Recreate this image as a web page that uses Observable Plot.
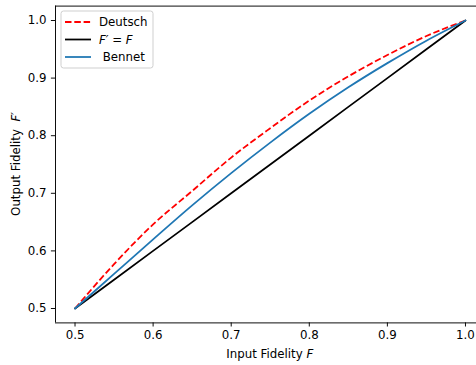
<!DOCTYPE html>
<html>
<head>
<meta charset="utf-8">
<script src="https://cdn.jsdelivr.net/npm/d3@7"></script>
<script src="https://cdn.jsdelivr.net/npm/@observablehq/plot@0.6"></script>
<style>
  html, body { margin: 0; padding: 0; background: #fff; overflow: hidden; }
  #chart { width: 476px; height: 365px; }
</style>
</head>
<body>
<div id="chart"></div>
<script>
// Input fidelity values (x)
const inputF = [0.5, 0.55, 0.6, 0.65, 0.7, 0.75, 0.8, 0.85, 0.9, 0.95, 1.0];
// Output fidelity
const deutsch = [0.5, 0.577, 0.646, 0.704, 0.762, 0.813, 0.861, 0.903, 0.940, 0.973, 1.0];
const bennet  = [0.5, 0.560, 0.620, 0.679, 0.735, 0.788, 0.838, 0.884, 0.926, 0.965, 1.0];
const identity = [0.5, 0.55, 0.6, 0.65, 0.7, 0.75, 0.8, 0.85, 0.9, 0.95, 1.0];
const ticks = [0.5, 0.6, 0.7, 0.8, 0.9, 1.0];
const seriesNames = ["Deutsch", "F′ = F", " Bennet"];
const seriesColors = ["#ff0000", "#000000", "#1f77b4"];

const rows = (ys) => inputF.map((f, i) => ({f, v: ys[i]}));
const font = "DejaVu Sans, sans-serif";
const fs = 11.8;

const plot = Plot.plot({
  width: 476,
  height: 365,
  marginLeft: 55,
  marginRight: 0,
  marginTop: 5.6,
  marginBottom: 42.6,
  style: {fontFamily: font, fontSize: fs + "px", color: "#000", background: "#fff", overflow: "visible"},
  x: {domain: [0.475, 1.025], range: [55, 484.5]},
  y: {domain: [0.475, 1.025]},
  marks: [
    Plot.line(rows(deutsch), {x: "f", y: "v", stroke: seriesColors[0], strokeWidth: 1.77, strokeDasharray: "6.5,2.8", curve: "monotone-x", strokeLinecap: "butt"}),
    Plot.line(rows(identity), {x: "f", y: "v", stroke: seriesColors[1], strokeWidth: 1.77, curve: "linear"}),
    Plot.line(rows(bennet), {x: "f", y: "v", stroke: seriesColors[2], strokeWidth: 1.77, curve: "monotone-x"}),
    Plot.ruleX([0.475], {stroke: "#000", strokeWidth: 0.95}),
    Plot.ruleY([0.475], {stroke: "#000", strokeWidth: 0.95}),
    Plot.ruleY([1.025], {stroke: "#000", strokeWidth: 0.95}),
    Plot.axisX({ticks, tickFormat: d3.format(".1f"), tickSize: 4.1, tickPadding: 3.5, label: null, fontSize: fs, stroke: "#000", strokeWidth: 0.95}),
    Plot.axisY({ticks, tickFormat: d3.format(".1f"), tickSize: 4.1, tickPadding: 5, label: null, fontSize: fs, stroke: "#000", strokeWidth: 0.95})
  ]
});

document.getElementById("chart").appendChild(plot);

const svg = d3.select(plot);

// Axis labels
const xl = svg.append("text")
  .attr("x", 269.75).attr("y", 357.5)
  .attr("text-anchor", "middle")
  .attr("font-family", font).attr("font-size", fs).attr("fill", "#000");
xl.append("tspan").text("Input Fidelity ");
xl.append("tspan").attr("font-style", "italic").text("F");

const yl = svg.append("text")
  .attr("transform", "translate(19.5,164) rotate(-90)")
  .attr("text-anchor", "middle")
  .attr("font-family", font).attr("font-size", fs).attr("fill", "#000");
yl.append("tspan").text("Output Fidelity  ");
yl.append("tspan").attr("font-style", "italic").text("F′");

// Legend
const lg = svg.append("g").attr("text-anchor", "start");
lg.append("rect")
  .attr("x", 61).attr("y", 11).attr("width", 92).attr("height", 57)
  .attr("rx", 2.5).attr("fill", "#fff").attr("fill-opacity", 0.8)
  .attr("stroke", "#cccccc").attr("stroke-width", 0.95);
const ys = [22, 39.5, 57];
seriesNames.forEach((name, i) => {
  lg.append("line")
    .attr("x1", 65).attr("x2", 91).attr("y1", ys[i]).attr("y2", ys[i])
    .attr("stroke", seriesColors[i]).attr("stroke-width", 1.77)
    .attr("stroke-dasharray", i === 0 ? "6.5,2.8" : null);
  const t = lg.append("text")
    .attr("x", 99).attr("y", ys[i] + 4.2)
    .attr("text-anchor", "start")
    .attr("font-family", font).attr("font-size", fs).attr("fill", "#000")
    .style("white-space", "pre");
  if (i === 1) {
    t.append("tspan").attr("font-style", "italic").text("F′");
    t.append("tspan").text(" = ");
    t.append("tspan").attr("font-style", "italic").text("F");
  } else {
    t.text(name);
  }
});
</script>
</body>
</html>
